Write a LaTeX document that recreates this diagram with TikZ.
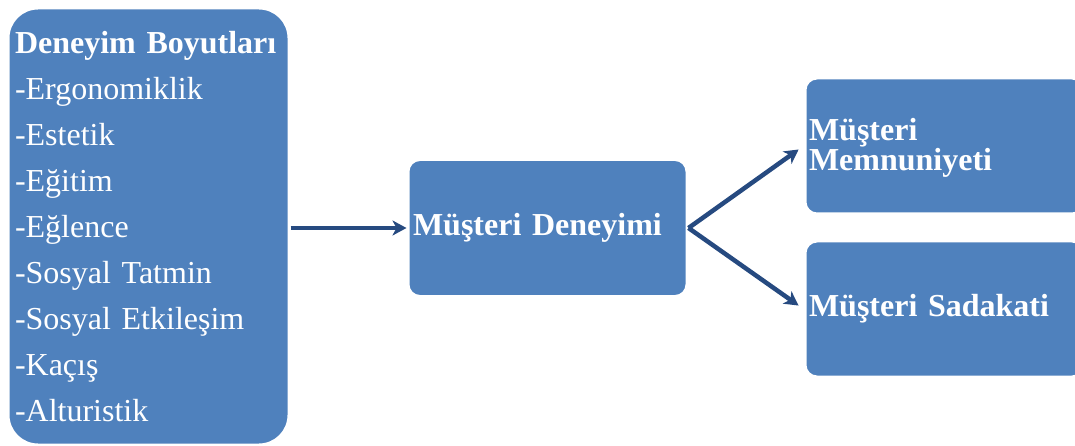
\documentclass[tikz,border=0pt]{standalone}
\usepackage{fontspec}
\setmainfont{Liberation Serif}
\usetikzlibrary{arrows.meta}
\definecolor{kutuMavi}{RGB}{79,129,189}
\definecolor{okMavi}{RGB}{38,74,128}
\begin{document}
\begin{tikzpicture}[x=1pt, y=-1pt, line join=round, >={Stealth[length=14pt,width=15pt,inset=4pt]},
 kutu/.style={draw=white, line width=3pt, fill=kutuMavi, rounded corners=12pt, text=white,
  font=\fontsize{32}{30}\selectfont\bfseries, align=left, inner xsep=4pt, text width=271pt,
  minimum width=279pt, minimum height=136pt},
 ok/.style={->, draw=okMavi, line width=4.5pt}]
 \useasboundingbox (0,0) rectangle (1075,446);
 % boyutlar
 \node[kutu, rounded corners=30pt, font=\fontsize{32}{46.1}\selectfont, inner xsep=7pt,
  text width=267pt, minimum width=281pt, minimum height=437pt] (boyut) at (148.5,226.5)
  {\textbf{Deneyim Boyutları}\\-Ergonomiklik\\-Estetik\\-Eğitim\\-Eğlence\\-Sosyal Tatmin\\
   -Sosyal Etkileşim\\-Kaçış\\-Alturistik};
 \node[kutu, inner xsep=5pt, text width=269pt, minimum height=137pt] (deneyim) at (547.5,228) {Müşteri Deneyimi};
 \node[kutu, text height=26pt] (memnun) at (944.5,146) {Müşteri\\Memnuniyeti};
 \node[kutu] (sadakat) at (944.5,309) {Müşteri Sadakati};
 % oklar
 \draw[ok] (boyut.east |- deneyim.west) -- (deneyim.west);
 \draw[ok, shorten >=6pt] (deneyim.east) -- (memnun.west);
 \draw[ok, shorten >=6pt] (deneyim.east) -- (sadakat.west);
\end{tikzpicture}
\end{document}
